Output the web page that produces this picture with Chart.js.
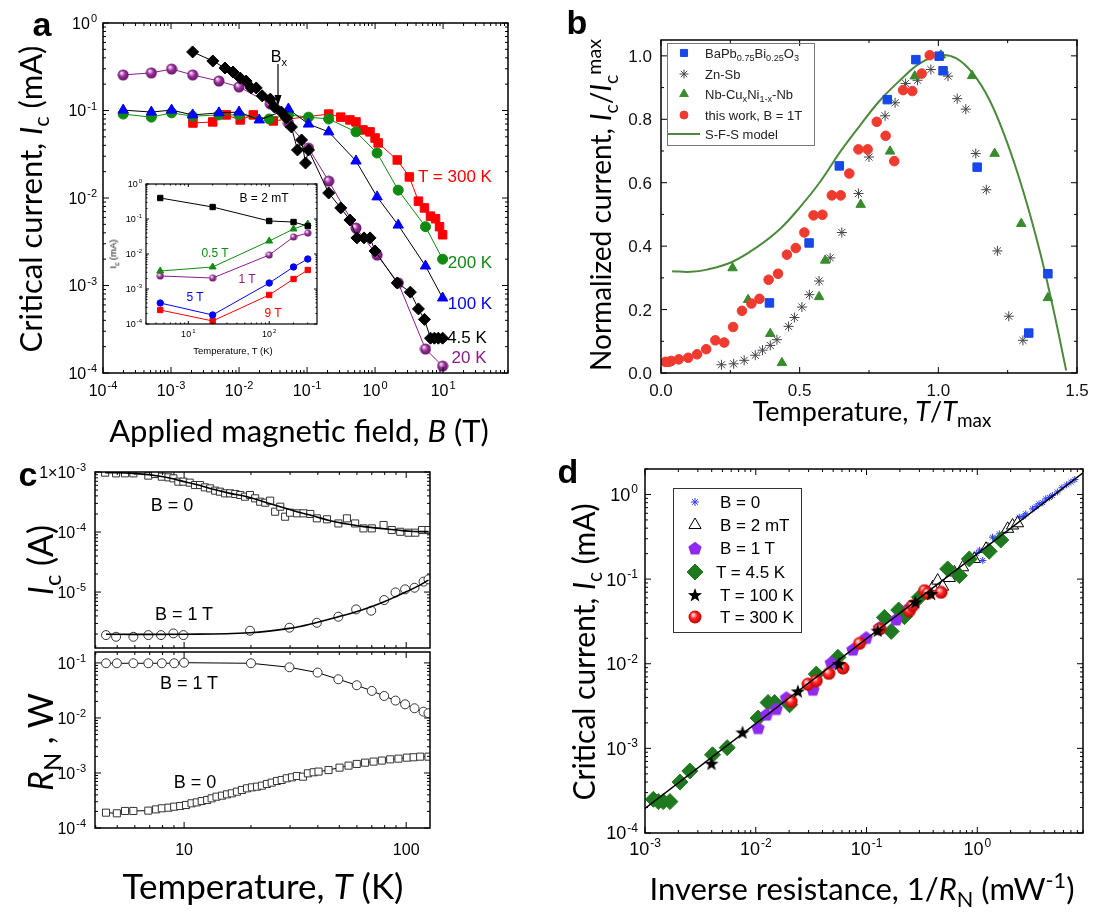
<!DOCTYPE html>
<html>
<head>
<meta charset="utf-8">
<script src="https://cdn.jsdelivr.net/npm/chart.js@4.4.1/dist/chart.umd.min.js"></script>
<style>
  body { margin: 0; background: #fff; width: 1096px; height: 915px; position: relative; overflow: hidden;
         font-family: "Liberation Sans", Arial, sans-serif; }
  canvas { position: absolute; left: 0; top: 0; }
  .t { position: absolute; white-space: nowrap; color: #000; line-height: 1; transform: translate(-50%, -50%); }
  .r { transform: translate(-50%, -50%) rotate(-90deg); }
  .ttl { font-family: Lato, "Open Sans", sans-serif; font-size: 31px; }
  .let { font-weight: bold; font-size: 34px; }
  sub, sup { font-size: 70%; line-height: 0; }
  .box { position: absolute; border: 1px solid #777; }
</style>
</head>
<body>
<canvas id="ca" width="1096" height="915"></canvas>
<canvas id="cin" width="1096" height="915"></canvas>
<canvas id="cb" width="1096" height="915"></canvas>
<canvas id="cc1" width="1096" height="915"></canvas>
<canvas id="cc2" width="1096" height="915"></canvas>
<canvas id="cd" width="1096" height="915"></canvas>

<!-- panel a -->
<div class="t let" style="left:42px;top:24px">a</div>
<div class="t ttl r" style="left:30px;top:199px">Critical current, <i>I</i><sub>c</sub> (mA)</div>
<div class="t ttl" style="left:299px;top:430px">Applied magnetic field, <i>B</i> (T)</div>
<div class="t" style="left:279px;top:57px;font-size:16px">B<sub>x</sub></div>
<svg style="position:absolute;left:270px;top:62px" width="16" height="50">
  <line x1="8" y1="2" x2="8" y2="38" stroke="#000" stroke-width="1.2"/>
  <path d="M4.5 33 L8 44 L11.5 33 Z" fill="#000"/>
</svg>
<div class="t" style="left:455px;top:176px;font-size:17px;color:#ff0000">T = 300 K</div>
<div class="t" style="left:470px;top:262px;font-size:17px;color:#118a11">200 K</div>
<div class="t" style="left:470px;top:303px;font-size:17px;color:#0000ff">100 K</div>
<div class="t" style="left:467px;top:337px;font-size:17px;color:#000">4.5 K</div>
<div class="t" style="left:469px;top:357px;font-size:17px;color:#8b1a8b">20 K</div>
<!-- inset -->
<div class="t r" style="left:113px;top:254px;font-size:9.5px">I<sub>c</sub> (mA)</div>
<div class="t" style="left:233px;top:351px;font-size:9.5px">Temperature, T (K)</div>
<div class="t" style="left:264px;top:198px;font-size:12px">B = 2 mT</div>
<div class="t" style="left:215px;top:253px;font-size:12px;color:#118a11">0.5 T</div>
<div class="t" style="left:247px;top:279px;font-size:12px;color:#8b1a8b">1 T</div>
<div class="t" style="left:195px;top:297px;font-size:12px;color:#0000ff">5 T</div>
<div class="t" style="left:273px;top:313px;font-size:12px;color:#ff0000">9 T</div>

<!-- panel b -->
<div class="t let" style="left:577px;top:22px">b</div>
<div class="t ttl r" style="left:600px;top:205px;font-size:28px">Normalized current, <i>I</i><sub>c</sub>/<i>I</i><sub>c</sub><sup>max</sup></div>
<div class="t ttl" style="left:872px;top:410px;font-size:27px">Temperature, <i>T</i>/<i>T</i><sub>max</sub></div>
<div class="box" style="left:667px;top:43px;width:146px;height:101px"></div>
<div class="t" style="left:705px;top:53px;font-size:13px;color:#222;transform:translate(0,-50%)">BaPb<sub>0.75</sub>Bi<sub>0.25</sub>O<sub>3</sub></div>
<div class="t" style="left:705px;top:74px;font-size:13px;color:#222;transform:translate(0,-50%)">Zn-Sb</div>
<div class="t" style="left:705px;top:94px;font-size:13px;color:#222;transform:translate(0,-50%)">Nb-Cu<sub>x</sub>Ni<sub>1-x</sub>-Nb</div>
<div class="t" style="left:705px;top:115px;font-size:13px;color:#222;transform:translate(0,-50%)">this work, B = 1T</div>
<div class="t" style="left:705px;top:134px;font-size:13px;color:#222;transform:translate(0,-50%)">S-F-S model</div>

<!-- panel c -->
<div class="t let" style="left:28px;top:474px">c</div>
<div class="t ttl r" style="left:40px;top:560px;font-size:34px"><i>I</i><sub>c</sub> (A)</div>
<div class="t ttl r" style="left:40px;top:742px;font-size:34px"><i>R</i><sub>N</sub> , W</div>
<div class="t ttl" style="left:263px;top:885px;font-size:35px">Temperature, <i>T</i> (K)</div>
<div class="t" style="left:172px;top:505px;font-size:18px">B = 0</div>
<div class="t" style="left:184px;top:614px;font-size:18px">B = 1 T</div>
<div class="t" style="left:189px;top:683px;font-size:18px">B = 1 T</div>
<div class="t" style="left:195px;top:782px;font-size:18px">B = 0</div>

<!-- panel d -->
<div class="t let" style="left:568px;top:471px">d</div>
<div class="t ttl r" style="left:583px;top:652px;font-size:30px">Critical current, <i>I</i><sub>c</sub> (mA)</div>
<div class="t ttl" style="left:862px;top:888px;font-size:31px">Inverse resistance, 1/<i>R</i><sub>N</sub> (mW<sup>-1</sup>)</div>
<div class="box" style="left:673px;top:488px;width:127px;height:143px;border-color:#333"></div>
<div class="t" style="left:720px;top:502px;font-size:17px;transform:translate(0,-50%)">B = 0</div>
<div class="t" style="left:720px;top:525px;font-size:17px;transform:translate(0,-50%)">B = 2 mT</div>
<div class="t" style="left:720px;top:548px;font-size:17px;transform:translate(0,-50%)">B = 1 T</div>
<div class="t" style="left:716px;top:572px;font-size:17px;transform:translate(0,-50%)">T = 4.5 K</div>
<div class="t" style="left:720px;top:595px;font-size:17px;transform:translate(0,-50%)">T = 100 K</div>
<div class="t" style="left:720px;top:617px;font-size:17px;transform:translate(0,-50%)">T = 300 K</div>

<script>
// ---------- panel a : Ic vs B ----------
const aB300 = [0.0021, 0.0041, 0.0065, 0.0104, 0.0162, 0.0319, 0.208, 0.313, 0.427, 0.524, 0.664, 0.843, 1.0, 1.11, 2.12, 3.19, 4.34, 5.32, 6.53, 7.74, 8.87, 9.84];
const aI300 = [0.072, 0.074, 0.089, 0.078, 0.089, 0.076, 0.091, 0.084, 0.078, 0.074, 0.060, 0.057, 0.0485, 0.0426, 0.0272, 0.0174, 0.0092, 0.0077, 0.0062, 0.0058, 0.0047, 0.0038];
const aB200 = [0.000198, 0.000514, 0.00102, 0.00208, 0.00506, 0.01, 0.0278, 0.0532, 0.105, 0.208, 0.524, 1.07, 2.19, 5.51, 9.84];
const aI200 = [0.091, 0.084, 0.094, 0.086, 0.089, 0.089, 0.080, 0.089, 0.084, 0.080, 0.057, 0.0327, 0.0123, 0.0047, 0.0020];
const aB100 = [0.000198, 0.000514, 0.00102, 0.00208, 0.00506, 0.01, 0.0198, 0.0532, 0.105, 0.208, 0.524, 1.07, 2.19, 5.51, 9.84];
const aI100 = [0.101, 0.096, 0.101, 0.089, 0.094, 0.096, 0.078, 0.104, 0.070, 0.057, 0.0265, 0.0103, 0.0049, 0.00167, 0.00072];
const aB45 = [0.00208, 0.00412, 0.00621, 0.00815, 0.0104, 0.0127, 0.0151, 0.0179, 0.0219, 0.0288, 0.033, 0.0419, 0.0497, 0.0589, 0.0723, 0.083, 0.095, 0.105, 0.208, 0.313, 0.427, 0.541, 0.687, 0.843, 1.0, 2.12, 3.30, 4.34, 5.32, 6.53, 7.45, 8.5, 9.84];
const aI45 = [0.467, 0.368, 0.306, 0.275, 0.235, 0.217, 0.181, 0.181, 0.147, 0.135, 0.110, 0.096, 0.082, 0.0648, 0.0354, 0.046, 0.0251, 0.0354, 0.0114, 0.0077, 0.0056, 0.0035, 0.0035, 0.0035, 0.00248, 0.00107, 0.00084, 0.00054, 0.00041, 0.00025, 0.00025, 0.00025, 0.00025];
const aB20 = [0.000198, 0.000514, 0.00102, 0.00208, 0.00506, 0.01, 0.0288, 0.0532, 0.105, 0.208, 0.524, 1.07, 2.19, 5.51, 9.84];
const aI20 = [0.255, 0.269, 0.298, 0.255, 0.217, 0.186, 0.119, 0.072, 0.0372, 0.0156, 0.00454, 0.00223, 0.00107, 0.000188, 0.00012];
const aXTicks = [1e-4, 1e-3, 1e-2, 1e-1, 1, 10];
const aXText = [['10', '-4'], ['10', '-3'], ['10', '-2'], ['10', '-1'], ['10', '0'], ['10', '1']];
const aYTicks = [1e-4, 1e-3, 1e-2, 1e-1, 1];
const aYText = [['10', '-4'], ['10', '-3'], ['10', '-2'], ['10', '-1'], ['10', '0']];

// inset: Ic vs T
const inT = [4.5, 20, 100, 200, 300];
const inI2mT = [0.398, 0.22, 0.0877, 0.082, 0.063];
const inI05T = [0.00327, 0.00426, 0.0235, 0.0518, 0.072];
const inI1T = [0.00235, 0.00206, 0.00935, 0.0306, 0.0398];
const inI5T = [0.000398, 0.000181, 0.00148, 0.00426, 0.0072];
const inI9T = [0.000251, 0.000122, 0.000675, 0.00193, 0.00349];
const inXTicks = [10, 100];
const inXText = [['10', '1'], ['10', '2']];

// ---------- panel b : normalized current ----------
const bBaX = [0.391, 0.534, 0.643, 0.816, 0.919, 1.003, 1.017, 1.14, 1.326, 1.395];
const bBaY = [0.221, 0.41, 0.653, 0.862, 0.988, 0.999, 0.953, 0.649, 0.126, 0.313];
const bZnX = [0.218, 0.262, 0.300, 0.340, 0.366, 0.394, 0.418, 0.460, 0.481, 0.508, 0.535, 0.570, 0.61, 0.652, 0.712, 0.75, 0.808, 0.844, 0.882, 0.925, 0.973, 1.035, 1.068, 1.099, 1.135, 1.173, 1.213, 1.254, 1.305];
const bZnY = [0.026, 0.029, 0.040, 0.056, 0.072, 0.087, 0.105, 0.147, 0.175, 0.208, 0.247, 0.29, 0.363, 0.443, 0.566, 0.681, 0.811, 0.852, 0.913, 0.923, 0.957, 0.936, 0.865, 0.832, 0.692, 0.578, 0.385, 0.179, 0.103];
const bNbX = [0.258, 0.314, 0.394, 0.436, 0.570, 0.592, 0.72, 0.826, 0.915, 1.009, 1.122, 1.203, 1.299, 1.395];
const bNbY = [0.331, 0.231, 0.124, 0.032, 0.24, 0.355, 0.531, 0.699, 0.936, 1.002, 0.937, 0.692, 0.471, 0.237];
const bWorkX = [0.016, 0.028, 0.037, 0.064, 0.098, 0.13, 0.163, 0.196, 0.228, 0.26, 0.292, 0.326, 0.355, 0.388, 0.422, 0.454, 0.486, 0.517, 0.55, 0.582, 0.616, 0.648, 0.679, 0.712, 0.745, 0.778, 0.81, 0.841, 0.873, 0.906, 0.94, 0.969];
const bWorkY = [0.035, 0.035, 0.038, 0.043, 0.048, 0.059, 0.075, 0.103, 0.096, 0.145, 0.196, 0.219, 0.234, 0.294, 0.313, 0.373, 0.394, 0.443, 0.497, 0.499, 0.56, 0.56, 0.629, 0.705, 0.705, 0.792, 0.748, 0.668, 0.892, 0.889, 0.944, 1.002];
const bModelX = [0.04, 0.106, 0.166, 0.256, 0.346, 0.43, 0.502, 0.574, 0.646, 0.718, 0.79, 0.862, 0.933, 1.005, 1.065, 1.125, 1.185, 1.245, 1.305, 1.365, 1.413, 1.461];
const bModelY = [0.321, 0.319, 0.326, 0.35, 0.397, 0.455, 0.524, 0.603, 0.697, 0.781, 0.86, 0.923, 0.976, 1.002, 0.992, 0.944, 0.86, 0.734, 0.576, 0.387, 0.208, 0.008];
const bXTicks = [0, 0.5, 1.0, 1.5];
const bXText = [['0.0', ''], ['0.5', ''], ['1.0', ''], ['1.5', '']];
const bXMinor = [0.25, 0.75, 1.25];
const bYTicks = [0, 0.2, 0.4, 0.6, 0.8, 1.0];
const bYText = [['0.0', ''], ['0.2', ''], ['0.4', ''], ['0.6', ''], ['0.8', ''], ['1.0', '']];
const bYMinor = [0.1, 0.3, 0.5, 0.7, 0.9];

// ---------- panel c : Ic(T) and RN(T) ----------
const cT0 = [4.41, 4.94, 5.42, 5.91, 6.9, 7.4, 7.94, 8.5, 8.95, 9.42, 9.93, 10.6, 11.2, 11.8, 12.4, 13.1, 13.8, 14.5, 15.3, 16.1, 17.0, 17.9, 18.8, 19.8, 20.9, 22.0, 23.2, 24.4, 25.7, 27.1, 28.5, 30.0, 32.2, 34.5, 37.0, 39.6, 44.0, 49.5, 54.1, 58.9, 64.2, 70.0, 79.1, 86.1, 94.0, 102.4, 109.9, 117.8, 126];
const cI0 = [9.75e-4, 9.5e-4, 9.5e-4, 9.5e-4, 8.7e-4, 9.26e-4, 8.36e-4, 8.15e-4, 7.84e-4, 6.9e-4, 6.9e-4, 6.64e-4, 6.07e-4, 6.07e-4, 5.55e-4, 5.34e-4, 4.89e-4, 4.7e-4, 4.41e-4, 4.41e-4, 4.3e-4, 4.14e-4, 3.88e-4, 4.14e-4, 3.64e-4, 3.2e-4, 3.08e-4, 3.33e-4, 2.18e-4, 2.64e-4, 1.8e-4, 2.1e-4, 2.05e-4, 2.05e-4, 2.0e-4, 1.69e-4, 1.63e-4, 1.39e-4, 1.69e-4, 1.39e-4, 1.15e-4, 1.15e-4, 1.31e-4, 1.08e-4, 1.01e-4, 9.75e-5, 9.75e-5, 1.08e-4, 1.08e-4];
const cT0fit = [4.41, 5.91, 8.07, 9.59, 11.6, 13.55, 16.1, 19.2, 22.8, 27.1, 32.2, 38.3, 45.5, 54.1, 64.2, 76.4, 90.8, 108, 126];
const cI0fit = [9.75e-4, 9.5e-4, 8.36e-4, 7.18e-4, 6.07e-4, 5.15e-4, 4.41e-4, 3.88e-4, 3.2e-4, 2.64e-4, 2.18e-4, 1.85e-4, 1.54e-4, 1.36e-4, 1.23e-4, 1.15e-4, 1.08e-4, 1.02e-4, 1.02e-4];
const cT1 = [4.45, 4.94, 5.91, 6.9, 7.87, 8.95, 9.93, 19.8, 29.8, 39.6, 49.5, 59.5, 69.6, 79.6, 89.5, 98.9, 109, 119.7, 126];
const cI1 = [1.92e-6, 1.8e-6, 1.8e-6, 1.92e-6, 1.92e-6, 2.05e-6, 1.92e-6, 2.27e-6, 2.55e-6, 3.08e-6, 3.88e-6, 5.14e-6, 4.89e-6, 7.36e-6, 9.87e-6, 1.11e-5, 1.18e-5, 1.49e-5, 1.63e-5];
const cT1fit = [4.45, 9.93, 19.8, 29.8, 39.6, 49.5, 59.5, 69.6, 79.6, 89.5, 100, 111.7, 126];
const cI1fit = [1.98e-6, 1.98e-6, 2.1e-6, 2.48e-6, 3.12e-6, 3.88e-6, 4.7e-6, 5.7e-6, 6.9e-6, 8.36e-6, 1.01e-5, 1.23e-5, 1.58e-5];
const cRT1 = [4.45, 4.98, 5.91, 6.9, 7.94, 9.02, 9.99, 20, 29.8, 39.9, 49.5, 59.9, 70, 79.6, 89.5, 98.9, 109, 119.7, 126];
const cR1 = [0.0986, 0.0986, 0.0986, 0.0986, 0.0986, 0.0986, 0.101, 0.0986, 0.0834, 0.0667, 0.0505, 0.0393, 0.031, 0.0251, 0.0207, 0.0177, 0.015, 0.013, 0.0122];
const cRT0 = [4.45, 4.98, 5.42, 5.91, 6.9, 7.48, 7.94, 8.5, 9.02, 9.6, 10.2, 10.8, 11.4, 12.0, 12.7, 13.3, 14.0, 14.8, 15.6, 16.4, 17.3, 18.2, 19.2, 20.2, 21.3, 22.4, 23.6, 24.8, 26.2, 27.5, 29.0, 30.6, 32.2, 34.3, 36.1, 38.3, 40.3, 44.7, 50.1, 55.0, 59.9, 65.3, 71.3, 77.7, 84.7, 92.3, 100.7, 108, 115.6, 126];
const cR0 = [1.9e-4, 1.85e-4, 2.04e-4, 2.04e-4, 2.07e-4, 2.18e-4, 2.28e-4, 2.34e-4, 2.44e-4, 2.51e-4, 2.62e-4, 2.81e-4, 2.92e-4, 3.09e-4, 3.23e-4, 3.46e-4, 3.71e-4, 3.87e-4, 4.09e-4, 4.27e-4, 4.57e-4, 4.91e-4, 5.26e-4, 5.48e-4, 5.64e-4, 5.88e-4, 6.31e-4, 6.67e-4, 7.16e-4, 7.46e-4, 8.0e-4, 8.34e-4, 8.82e-4, 8.57e-4, 9.86e-4, 1.03e-3, 1.06e-3, 1.13e-3, 1.25e-3, 1.36e-3, 1.46e-3, 1.54e-3, 1.61e-3, 1.68e-3, 1.77e-3, 1.82e-3, 1.9e-3, 1.93e-3, 1.98e-3, 1.98e-3];
const cXTicks = [10, 100];
const cXText = [['10', ''], ['100', '']];
const cTopYTicks = [1e-5, 1e-4, 1e-3];
const cTopYText = [['10', '-5'], ['10', '-4'], ['1\u00d710', '-3']];
const cBotYTicks = [1e-4, 1e-3, 1e-2, 1e-1];
const cBotYText = [['10', '-4'], ['10', '-3'], ['10', '-2'], ['10', '-1']];

// ---------- panel d : Ic vs 1/RN ----------
const dB0X = [0.98, 1.05, 1.12, 1.25, 1.37, 1.45, 1.58, 1.81, 2.0, 2.1, 2.39, 2.6, 2.74, 3.15, 3.4, 3.61, 3.9, 4.15, 4.5, 4.76, 5.28, 5.8, 6.4, 7.0, 7.6];
const dB0Y = [0.2, 0.22, 0.166, 0.25, 0.313, 0.3, 0.342, 0.375, 0.42, 0.45, 0.539, 0.55, 0.59, 0.676, 0.72, 0.775, 0.8, 0.887, 0.92, 0.972, 1.07, 1.2, 1.3, 1.4, 1.5];
const d2mX = [0.396, 0.439, 0.487, 0.56, 0.621, 0.738, 0.94, 1.2, 1.88, 2.08, 2.31];
const d2mY = [0.08, 0.096, 0.0815, 0.103, 0.12, 0.138, 0.173, 0.228, 0.393, 0.43, 0.457];
const d1TX = [0.0105, 0.0125, 0.0153, 0.0189, 0.0328, 0.048, 0.0753, 0.0993, 0.131, 0.185, 0.244];
const d1TY = [1.76e-3, 2.54e-3, 2.96e-3, 4.0e-3, 5.0e-3, 0.0104, 0.0149, 0.0205, 0.0269, 0.0338, 0.0465];
const d45X = [1.19e-3, 1.32e-3, 1.46e-3, 1.68e-3, 2.07e-3, 2.54e-3, 4.07e-3, 5.52e-3, 0.0105, 0.0129, 0.0148, 0.0202, 0.0352, 0.0552, 0.145, 0.167, 0.195, 0.22, 0.3, 0.54, 0.689, 0.847, 1.28, 1.63];
const d45Y = [2.5e-4, 2.35e-4, 2.35e-4, 2.35e-4, 4.0e-4, 5.4e-4, 8.4e-4, 1.02e-3, 2.28e-3, 3.48e-3, 3.48e-3, 3.27e-3, 7.55e-3, 0.0119, 0.0353, 0.0241, 0.0432, 0.036, 0.061, 0.132, 0.11, 0.173, 0.213, 0.29];
const d100X = [3.98e-3, 7.59e-3, 0.024, 0.0562, 0.126, 0.276, 0.383];
const d100Y = [6.6e-4, 1.54e-3, 4.71e-3, 9.9e-3, 0.0246, 0.0532, 0.0668];
const d300X = [0.0209, 0.0296, 0.0352, 0.0457, 0.0612, 0.0865, 0.131, 0.244, 0.261, 0.334, 0.357, 0.471];
const d300Y = [3.58e-3, 5.74e-3, 6.29e-3, 7.68e-3, 8.89e-3, 0.0174, 0.0257, 0.0424, 0.0486, 0.0731, 0.0679, 0.0698];
const dFitX = [0.001, 9];
const dFitY = [1.95e-4, 1.8];
const dXTicks = [1e-3, 1e-2, 1e-1, 1];
const dXText = [['10', '-3'], ['10', '-2'], ['10', '-1'], ['10', '0']];
const dYTicks = [1e-4, 1e-3, 1e-2, 1e-1, 1];
const dYText = [['10', '-4'], ['10', '-3'], ['10', '-2'], ['10', '-1'], ['10', '0']];

const W = 1096, H = 915;
const FONT = '"Liberation Sans", Arial, sans-serif';

// tick label with optional superscript
function drawLbl(ctx, x, y, base, sup, size, align) {
  const ss = Math.round(size * 0.68);
  ctx.font = size + 'px ' + FONT;
  const w1 = ctx.measureText(base).width;
  ctx.font = ss + 'px ' + FONT;
  const w2 = sup ? ctx.measureText(sup).width + 1 : 0;
  const x0 = align === 'right' ? x - w1 - w2 : x - (w1 + w2) / 2;
  ctx.font = size + 'px ' + FONT;
  ctx.fillText(base, x0, y);
  if (sup) {
    ctx.font = ss + 'px ' + FONT;
    ctx.fillText(sup, x0 + w1 + 1, y - size * 0.42);
  }
}

// frame with inward ticks (Origin style) + labels + hand legend marks
const frameTicks = {
  id: 'frameTicks',
  afterDraw(chart, args, o) {
    const ctx = chart.ctx, a = chart.chartArea;
    ctx.save();
    ctx.strokeStyle = '#000';
    ctx.fillStyle = o.color || '#000';
    ctx.lineWidth = o.lw;
    ctx.strokeRect(a.left, a.top, a.right - a.left, a.bottom - a.top);
    ctx.lineWidth = o.tw || 1;
    ['x', 'y'].forEach(k => {
      const s = chart.scales[k], c = o[k];
      const list = [];
      if (s.type === 'logarithmic') {
        const e0 = Math.floor(Math.log10(s.min)), e1 = Math.ceil(Math.log10(s.max));
        for (let e = e0; e <= e1; e++) {
          for (let m = 1; m < 10; m++) {
            const v = m * Math.pow(10, e);
            if (v >= s.min * 0.999 && v <= s.max * 1.001) list.push([v, m === 1]);
          }
        }
      } else {
        c.minor.forEach(v => list.push([v, false]));
        c.vals.forEach(v => list.push([v, true]));
      }
      list.forEach(([v, maj]) => {
        const p = s.getPixelForValue(v), L = maj ? o.maj : o.min;
        ctx.beginPath();
        if (k === 'x') {
          ctx.moveTo(p, a.bottom); ctx.lineTo(p, a.bottom - L);
          ctx.moveTo(p, a.top); ctx.lineTo(p, a.top + L);
        } else {
          ctx.moveTo(a.left, p); ctx.lineTo(a.left + L, p);
          ctx.moveTo(a.right, p); ctx.lineTo(a.right - L, p);
        }
        ctx.stroke();
      });
      if (c.text) {
        c.vals.forEach((v, i) => {
          const p = s.getPixelForValue(v), [b, sp] = c.text[i];
          if (k === 'x') drawLbl(ctx, p, a.bottom + c.off, b, sp, c.size, 'center');
          else drawLbl(ctx, a.left - c.off, p + c.size * 0.36, b, sp, c.size, 'right');
        });
      }
    });
    (o.marks || []).forEach(m => {
      ctx.fillStyle = m.fill; ctx.strokeStyle = m.stroke || m.fill;
      ctx.lineWidth = m.bw || 1;
      Chart.helpers.drawPoint(ctx, { pointStyle: m.style, radius: m.r, rotation: 0, borderWidth: m.bw || 1 }, m.x, m.y);
    });
    (o.lines || []).forEach(l => {
      ctx.strokeStyle = l.color; ctx.lineWidth = l.w;
      ctx.beginPath(); ctx.moveTo(l.x1, l.y); ctx.lineTo(l.x2, l.y); ctx.stroke();
    });
    ctx.restore();
  }
};

function mk(size, fn) {
  const c = document.createElement('canvas');
  c.width = c.height = size;
  fn(c.getContext('2d'), size / 2);
  return c;
}
function ball(size, c0, c1, c2) {
  return mk(size, (g, h) => {
    const gr = g.createRadialGradient(h - h * 0.3, h - h * 0.35, 0.5, h, h, h);
    gr.addColorStop(0, c0); gr.addColorStop(0.45, c1); gr.addColorStop(1, c2);
    g.fillStyle = gr; g.beginPath(); g.arc(h, h, h - 0.5, 0, Math.PI * 2); g.fill();
  });
}
const purpleBall = ball(12, '#f6dcf6', '#9a309a', '#5a0e5a');
const purpleBallS = ball(8, '#f6dcf6', '#9a309a', '#5a0e5a');
const redBall = ball(14, '#ffe0e0', '#ff2222', '#b00000');
const pent = mk(16, (g, h) => {
  g.fillStyle = '#8f2bf0'; g.beginPath();
  for (let i = 0; i < 5; i++) { const t = -Math.PI / 2 + i * 2 * Math.PI / 5; g.lineTo(h + 7 * Math.cos(t), h + 0.8 + 7 * Math.sin(t)); }
  g.fill();
});
const star5 = mk(16, (g, h) => {
  g.fillStyle = '#000'; g.beginPath();
  for (let i = 0; i < 10; i++) { const t = -Math.PI / 2 + i * Math.PI / 5, rr = i % 2 ? 3 : 7.5; g.lineTo(h + rr * Math.cos(t), h + 0.5 + rr * Math.sin(t)); }
  g.fill();
});

function ds(xs, ys, o) {
  return Object.assign({ data: xs.map((x, i) => ({ x, y: ys[i] })), showLine: false, borderWidth: 1, pointBorderWidth: 1 }, o);
}
function plot(id, box, xs, ys, datasets, frame) {
  return new Chart(document.getElementById(id), {
    type: 'scatter',
    data: { datasets },
    options: {
      responsive: false, animation: false, events: [],
      layout: { padding: { left: box[0], top: box[1], right: W - box[2], bottom: H - box[3] } },
      plugins: { legend: { display: false }, tooltip: { enabled: false }, frameTicks: frame },
      scales: { x: Object.assign({ display: false }, xs), y: Object.assign({ display: false }, ys) }
    },
    plugins: [frameTicks]
  });
}

// panel a
plot('ca', [103, 23, 508, 373],
  { type: 'logarithmic', min: 1e-4, max: 90 }, { type: 'logarithmic', min: 1e-4, max: 1 }, [
  ds(aB45, aI45, { showLine: true, borderColor: '#000', pointStyle: 'rectRot', pointRadius: 6, pointBackgroundColor: '#000', pointBorderColor: '#000' }),
  ds(aB20, aI20, { showLine: true, borderColor: '#8b1a8b', pointStyle: purpleBall }),
  ds(aB100, aI100, { showLine: true, borderColor: '#000', pointStyle: 'triangle', pointRadius: 6, pointBackgroundColor: '#0000ff', pointBorderColor: '#0000ff' }),
  ds(aB200, aI200, { showLine: true, borderColor: '#118a11', pointStyle: 'circle', pointRadius: 5, pointBackgroundColor: '#118a11', pointBorderColor: '#118a11' }),
  ds(aB300, aI300, { showLine: true, borderColor: '#ff0000', pointStyle: 'rect', pointRadius: 6, pointBackgroundColor: '#ff0000', pointBorderColor: '#ff0000' })
], { lw: 1.5, maj: 6, min: 3,
  x: { vals: aXTicks, text: aXText, size: 16, off: 23 },
  y: { vals: aYTicks, text: aYText, size: 16, off: 6 } });

// inset
plot('cin', [146, 184, 317, 324],
  { type: 'logarithmic', min: 3, max: 390 }, { type: 'logarithmic', min: 1e-4, max: 1 }, [
  ds(inT, inI2mT, { showLine: true, borderColor: '#000', pointStyle: 'rect', pointRadius: 3.8, pointBackgroundColor: '#000', pointBorderColor: '#000' }),
  ds(inT, inI05T, { showLine: true, borderColor: '#118a11', pointStyle: 'triangle', pointRadius: 4, pointBackgroundColor: '#118a11', pointBorderColor: '#118a11' }),
  ds(inT, inI1T, { showLine: true, borderColor: '#8b1a8b', pointStyle: purpleBallS }),
  ds(inT, inI5T, { showLine: true, borderColor: '#0000ff', pointStyle: 'circle', pointRadius: 3.2, pointBackgroundColor: '#0000ff', pointBorderColor: '#0000ff' }),
  ds(inT, inI9T, { showLine: true, borderColor: '#ff0000', pointStyle: 'rect', pointRadius: 3.8, pointBackgroundColor: '#ff0000', pointBorderColor: '#ff0000' })
], { lw: 1.2, maj: 3, min: 1.5,
  x: { vals: inXTicks, text: inXText, size: 9, off: 13 },
  y: { vals: aYTicks, text: aYText, size: 9, off: 4 } });

// panel b
plot('cb', [661, 40, 1077, 373],
  { type: 'linear', min: 0, max: 1.5 }, { type: 'linear', min: 0, max: 1.05 }, [
  ds(bModelX, bModelY, { showLine: true, borderColor: '#4a8a3a', borderWidth: 2, pointRadius: 0, tension: 0.4, order: 5 }),
  ds(bZnX, bZnY, { pointStyle: 'star', pointRadius: 5, pointBorderColor: '#444', pointBackgroundColor: '#444', order: 4 }),
  ds(bNbX, bNbY, { pointStyle: 'triangle', pointRadius: 5.5, pointBackgroundColor: '#3a8a2e', pointBorderColor: '#3a8a2e', order: 3 }),
  ds(bBaX, bBaY, { pointStyle: 'rect', pointRadius: 6, pointBackgroundColor: '#1848e6', pointBorderColor: '#1848e6', order: 2 }),
  ds(bWorkX, bWorkY, { pointStyle: 'circle', pointRadius: 4.8, pointBackgroundColor: '#ef3b2f', pointBorderColor: '#ef3b2f', order: 1 })
], { lw: 1.5, maj: 6, min: 3, color: '#111',
  x: { vals: bXTicks, minor: bXMinor, text: bXText, size: 17, off: 23 },
  y: { vals: bYTicks, minor: bYMinor, text: bYText, size: 17, off: 9 },
  marks: [
    { x: 684, y: 53, style: 'rect', r: 5, fill: '#1848e6' },
    { x: 684, y: 74, style: 'star', r: 4.5, fill: '#444' },
    { x: 684, y: 94, style: 'triangle', r: 5, fill: '#3a8a2e' },
    { x: 684, y: 115, style: 'circle', r: 4, fill: '#ef3b2f' }
  ],
  lines: [{ x1: 668, x2: 700, y: 134, color: '#4a8a3a', w: 2 }] });

// panel c top
plot('cc1', [95, 472, 430, 648],
  { type: 'logarithmic', min: 3.97, max: 128 }, { type: 'logarithmic', min: 1.17e-6, max: 1e-3 }, [
  ds(cT0fit, cI0fit, { showLine: true, borderColor: '#000', borderWidth: 1.6, pointRadius: 0, tension: 0.4, order: 0 }),
  ds(cT1fit, cI1fit, { showLine: true, borderColor: '#000', borderWidth: 1.6, pointRadius: 0, tension: 0.4, order: 0 }),
  ds(cT0, cI0, { pointStyle: 'rect', pointRadius: 5, pointBackgroundColor: '#fff', pointBorderColor: '#333', order: 1 }),
  ds(cT1, cI1, { pointStyle: 'circle', pointRadius: 4.5, pointBackgroundColor: '#fff', pointBorderColor: '#333', order: 1 })
], { lw: 1.5, maj: 6, min: 3,
  x: { vals: cXTicks, text: null },
  y: { vals: cTopYTicks, text: cTopYText, size: 16, off: 9 } });

// panel c bottom
plot('cc2', [95, 652, 430, 828],
  { type: 'logarithmic', min: 3.97, max: 128 }, { type: 'logarithmic', min: 1e-4, max: 0.158 }, [
  ds(cRT1, cR1, { showLine: true, borderColor: '#000', pointStyle: 'circle', pointRadius: 4.5, pointBackgroundColor: '#fff', pointBorderColor: '#333' }),
  ds(cRT0, cR0, { showLine: true, borderColor: '#000', pointStyle: 'rect', pointRadius: 5, pointBackgroundColor: '#fff', pointBorderColor: '#333' })
], { lw: 1.5, maj: 6, min: 3,
  x: { vals: cXTicks, text: cXText, size: 16, off: 27 },
  y: { vals: cBotYTicks, text: cBotYText, size: 16, off: 9 } });

// panel d
plot('cd', [645, 469, 1083, 833],
  { type: 'logarithmic', min: 1e-3, max: 9 }, { type: 'logarithmic', min: 1e-4, max: 2 }, [
  ds(dFitX, dFitY, { showLine: true, borderColor: '#000', borderWidth: 1.5, pointRadius: 0, order: 0 }),
  ds(dB0X, dB0Y, { pointStyle: 'star', pointRadius: 3.5, pointBorderColor: '#2a3cff', pointBackgroundColor: '#2a3cff', order: 6 }),
  ds(d2mX, d2mY, { pointStyle: 'triangle', pointRadius: 7, pointBackgroundColor: '#fff', pointBorderColor: '#000', order: 5 }),
  ds(d45X, d45Y, { pointStyle: 'rectRot', pointRadius: 8, pointBackgroundColor: '#1f7a1f', pointBorderColor: '#1f7a1f', order: 4 }),
  ds(d1TX, d1TY, { pointStyle: pent, order: 3 }),
  ds(d300X, d300Y, { pointStyle: redBall, order: 2 }),
  ds(d100X, d100Y, { pointStyle: star5, order: 1 })
], { lw: 1.5, maj: 6, min: 3,
  x: { vals: dXTicks, text: dXText, size: 18, off: 22 },
  y: { vals: dYTicks, text: dYText, size: 18, off: 7 },
  marks: [
    { x: 695, y: 502, style: 'star', r: 4, fill: '#2a3cff' },
    { x: 695, y: 525, style: 'triangle', r: 7, fill: '#fff', stroke: '#000' },
    { x: 695, y: 548, style: pent, r: 7, fill: '#8f2bf0' },
    { x: 695, y: 572, style: 'rectRot', r: 8, fill: '#1f7a1f' },
    { x: 695, y: 595, style: star5, r: 7, fill: '#000' },
    { x: 695, y: 617, style: redBall, r: 7, fill: '#f00' }
  ] });
</script>
</body>
</html>
